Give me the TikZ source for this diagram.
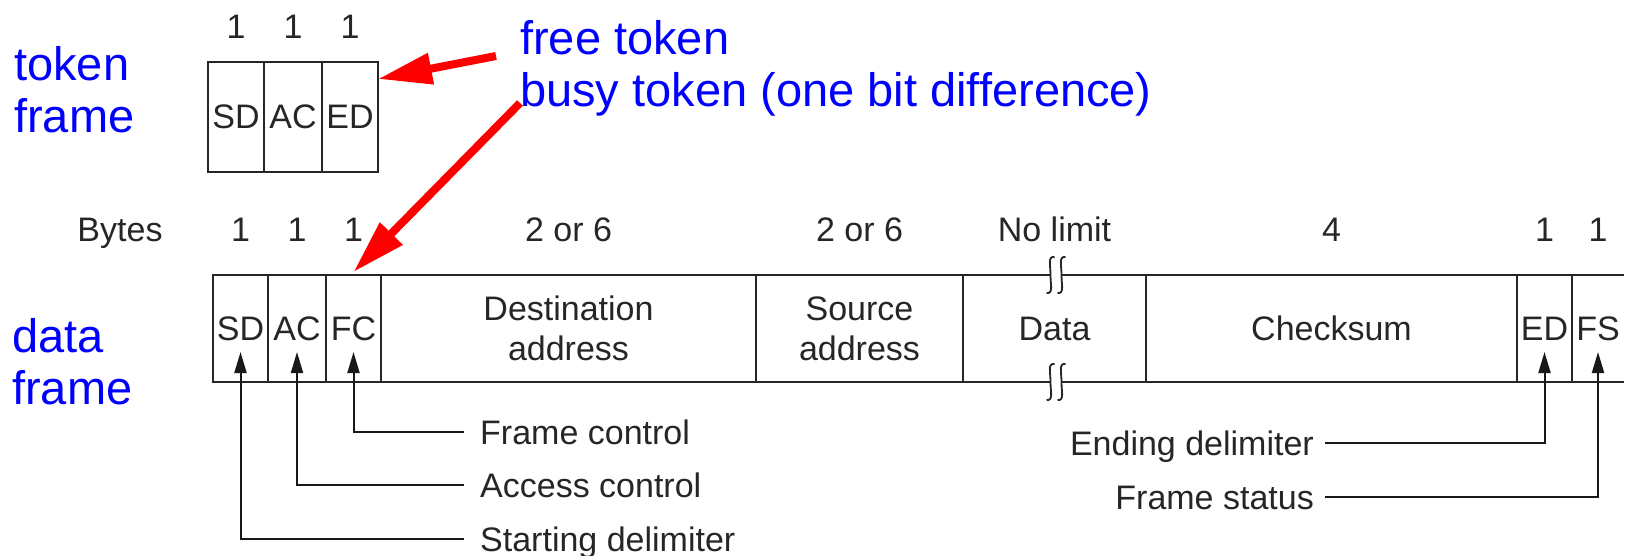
\documentclass[tikz,border=0pt]{standalone}
\usepackage{fontspec}
\setmainfont{Liberation Sans}
\usetikzlibrary{arrows.meta}
\begin{document}
\begin{tikzpicture}[x=1pt,y=-1pt,
  graytext/.style={text=black!85, font=\fontsize{34}{40}\selectfont},
  cell/.style={graytext, draw=black!85, line width=2pt, anchor=north west,
    inner sep=0pt, outer sep=0pt, minimum height=107pt, align=center},
  tcell/.style={cell, minimum height=110pt},
  bluelbl/.style={text=blue, font=\fontsize{47}{52}\selectfont, inner sep=0pt, align=left},
  gl/.style={graytext, inner sep=0pt, text height=24pt, text depth=0pt},
  ptr/.style={draw=black!90, line width=2pt, -{Triangle[length=21pt,width=12pt]}},
  redarr/.style={draw=red, line width=8pt, -{Triangle[length=54pt,width=30pt]}},
  brk/.pic={\draw[line width=1.8pt, black!85] (4,-18) .. controls (-3,-19) and (0,-10) .. (0,0)
      .. controls (0,10) and (3,19) .. (-4,18);},
]
\useasboundingbox (0,0) rectangle (1625,556);

% ---- token frame ----
\node[bluelbl, anchor=north west] (toklbl) at (14,46) {token\\frame};
\node[tcell, minimum width=56pt] (tsd) at (208,62) {SD};
\node[tcell, minimum width=58pt] (tac) at (264,62) {AC};
\node[tcell, minimum width=56pt] (ted) at (322,62) {ED};
\coordinate (trow) at (0,39);
\node[graytext, anchor=base] (tn1) at (tsd |- trow) {1};
\node[graytext, anchor=base] (tn2) at (tac |- trow) {1};
\node[graytext, anchor=base] (tn3) at (ted |- trow) {1};

\node[bluelbl, anchor=base west] (free) at (520,55) {free token};
\node[bluelbl, anchor=base west] (busy) at (520,107) {busy token (one bit difference)};

% ---- data frame ----
\node[bluelbl, anchor=north west] (datlbl) at (12,318) {data\\frame};
\node[cell, minimum width=55pt]  (sd)  at (213,275)  {SD};
\node[cell, minimum width=58pt]  (ac)  at (268,275)  {AC};
\node[cell, minimum width=55pt]  (fc)  at (326,275)  {FC};
\node[cell, minimum width=375pt] (dst) at (381,275)  {Destination\\address};
\node[cell, minimum width=207pt] (src) at (756,275)  {Source\\address};
\node[cell, minimum width=183pt] (dat) at (963,275)  {Data};
\node[cell, minimum width=371pt] (chk) at (1146,275) {Checksum};
\node[cell, minimum width=55pt]  (ed)  at (1517,275) {ED};
\node[cell, draw=none, minimum width=52pt] (fs) at (1572,275) {FS};
\draw[line width=2pt, black!85] (fs.north west) -- (fs.north east)
      (fs.south west) -- (fs.south east);

% break marks on the data field
\fill[white] ([xshift=-4pt,yshift=4pt]dat.north) rectangle ([xshift=7pt,yshift=-4pt]dat.north);
\fill[white] ([xshift=-4pt,yshift=4pt]dat.south) rectangle ([xshift=7pt,yshift=-4pt]dat.south);
\pic at ([xshift=-4pt]dat.north) {brk};
\pic at ([xshift=7pt]dat.north) {brk};
\pic at ([xshift=-4pt]dat.south) {brk};
\pic at ([xshift=7pt]dat.south) {brk};

% byte counts
\coordinate (brow) at (0,242);
\node[graytext, anchor=base] (bytes) at (120,242) {Bytes};
\node[graytext, anchor=base] (n1) at (sd |- brow) {1};
\node[graytext, anchor=base] (n2) at (ac |- brow) {1};
\node[graytext, anchor=base] (n3) at (fc |- brow) {1};
\node[graytext, anchor=base] (n4) at (dst |- brow) {2 or 6};
\node[graytext, anchor=base] (n5) at (src |- brow) {2 or 6};
\node[graytext, anchor=base] (n6) at (dat |- brow) {No limit};
\node[graytext, anchor=base] (n7) at (chk |- brow) {4};
\node[graytext, anchor=base] (n8) at (ed |- brow) {1};
\node[graytext, anchor=base] (n9) at (fs |- brow) {1};

% field callouts
\node[gl, anchor=west] (fclbl) at (480,432) {Frame control};
\node[gl, anchor=west] (aclbl) at (480,485) {Access control};
\node[gl, anchor=west] (sdlbl) at (480,539) {Starting delimiter};
\node[gl, anchor=east] (edlbl) at (1314,443) {Ending delimiter};
\node[gl, anchor=east] (fslbl) at (1314,497) {Frame status};

\draw[ptr] ([xshift=-16pt]fclbl.west) -| ([yshift=-77pt]fc.north);
\draw[ptr] ([xshift=-16pt]aclbl.west) -| ([yshift=-77pt]ac.north);
\draw[ptr] ([xshift=-16pt]sdlbl.west) -| ([yshift=-77pt]sd.north);
\draw[ptr] ([xshift=11pt]edlbl.east) -| ([yshift=-77pt]ed.north);
\draw[ptr] ([xshift=11pt]fslbl.east) -| ([yshift=-77pt]fs.north);

% token pointers
\draw[redarr] ([xshift=-24pt,yshift=-1pt]free.base west) -- ([yshift=38pt]ted.east);
\draw[redarr] ([yshift=4pt]busy.base west) -- ([yshift=3pt]fc.north);
\end{tikzpicture}
\end{document}
